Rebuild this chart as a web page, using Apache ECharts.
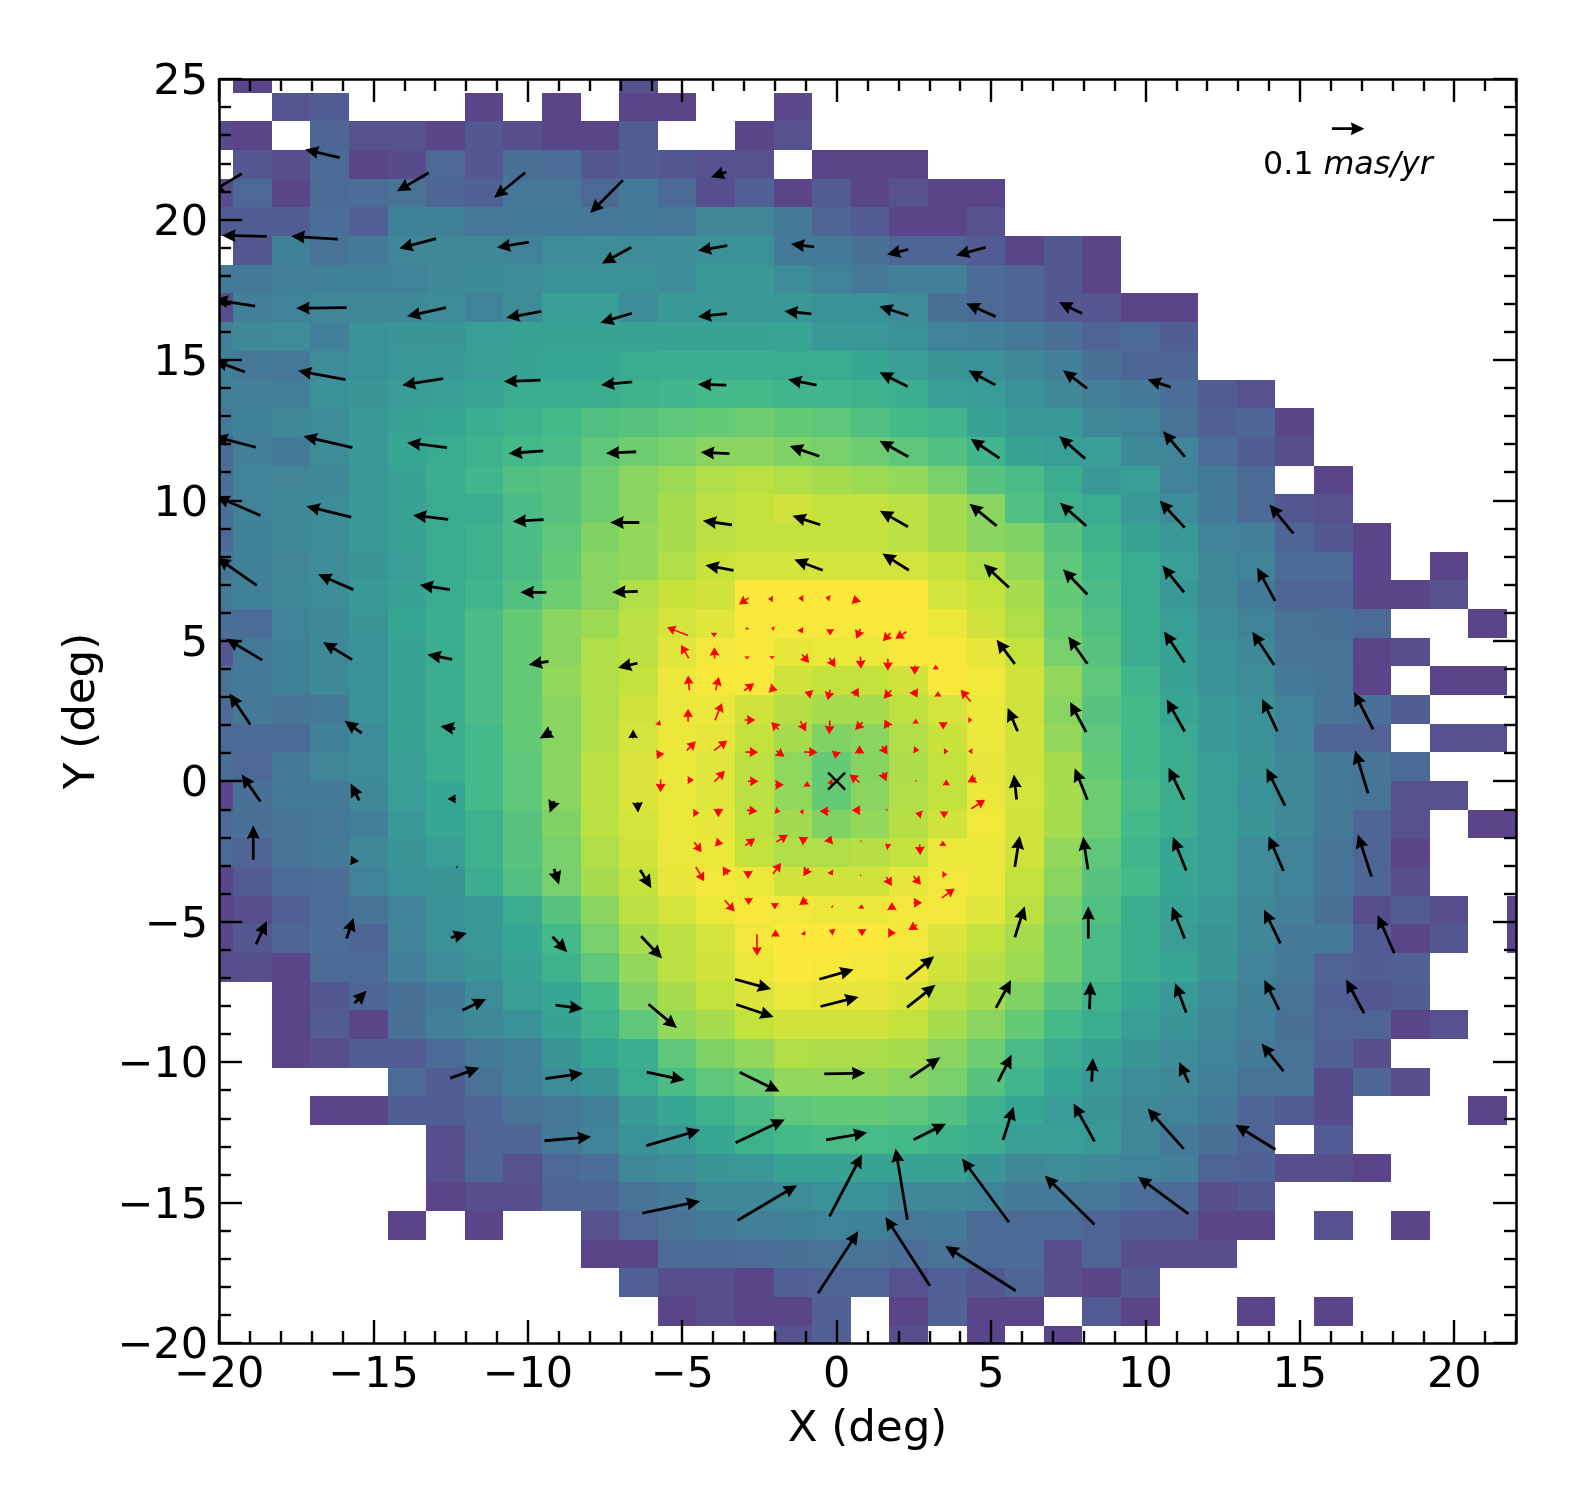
<!DOCTYPE html>
<html>
<head>
<meta charset="utf-8">
<style>html,body{margin:0;background:#fff}#chart{width:1578px;height:1512px}</style>
<script src="https://cdn.jsdelivr.net/npm/echarts@6/dist/echarts.min.js"></script>
</head>
<body>
<div id="chart"></div>
<script>
// bins, degrees
const cellLeft = -20.79;
const cellTop = 25.53;
const cellW = 1.25;
const cellH = 1.0208;

// density per bin, top row first, 0 = empty bin
const densityRows = [
[0,11,0,0,0,0,0,0,0,0,0,15],
[0,0,16,18,0,0,0,11,0,11,0,11,11,0,0,12],
[13,11,0,22,15,15,11,17,14,11,11,18,0,0,11,15],
[0,17,14,24,11,13,23,17,26,25,17,19,17,15,15,0,11,11,11],
[14,23,11,24,25,27,22,20,29,29,23,30,24,14,20,11,18,11,15,11,11],
[18,19,18,25,20,33,33,29,30,30,29,30,29,35,35,30,22,18,11,11,15],
[0,17,33,27,30,35,36,36,34,38,38,38,38,40,40,30,30,26,22,22,18,11,17,11],
[30,30,32,33,33,34,36,37,38,40,40,40,38,44,44,38,34,30,32,32,24,22,17,11],
[14,32,34,35,36,36,38,34,38,46,46,38,44,44,44,44,40,40,38,26,24,22,17,16,11,11],
[32,36,38,32,40,42,42,46,48,48,48,48,48,48,48,49,44,43,40,34,32,30,26,21,24,19],
[32,30,29,38,40,43,44,46,48,50,50,52,54,54,54,52,52,50,46,42,40,36,32,26,22,22],
[33,32,32,40,42,45,46,49,52,54,54,56,58,60,60,58,58,56,54,46,45,40,36,32,30,25,18,15],
[30,33,36,38,44,48,50,54,56,60,64,66,68,70,72,70,68,64,60,58,48,44,44,36,34,27,20,22,11],
[24,32,30,38,44,50,52,56,60,62,68,72,74,78,78,76,74,72,68,64,58,48,46,46,36,35,25,19,14],
[26,34,35,36,44,48,54,58,64,66,72,78,82,86,88,86,84,82,80,74,66,62,54,44,46,34,30,24,0,11],
[26,34,36,38,44,48,52,54,62,66,72,78,84,88,90,92,90,90,88,84,78,64,56,52,44,38,31,24,17,15],
[24,33,36,38,44,48,52,56,62,68,76,80,84,88,90,90,90,90,88,84,78,76,66,56,48,44,34,32,22,17,11],
[28,33,35,38,42,46,52,56,62,70,78,80,86,91,93,93,93,93,93,90,86,80,68,60,52,46,36,34,24,24,11,0,11],
[30,33,36,38,44,48,52,58,64,72,78,86,91,92,100,100,100,100,100,93,90,84,70,62,52,44,36,30,22,22,11,11,15],
[26,25,34,36,42,50,54,62,70,78,82,88,93,95,99,99,99,99,99,97,92,86,72,64,54,46,38,34,27,26,24,0,0,11],
[16,30,33,36,40,48,54,62,70,78,86,88,95,98,99,96,97,97,99,99,96,90,74,66,54,48,40,36,28,27,11,14],
[27,30,33,36,40,48,54,62,70,80,86,90,97,99,99,92,90,90,92,99,98,92,80,68,58,48,40,38,30,28,11,0,11,11],
[24,30,28,30,40,48,54,62,70,78,86,92,97,97,92,87,84,84,89,93,97,92,78,66,60,50,44,40,34,28,26,19],
[24,24,24,33,38,48,54,60,70,78,86,93,97,96,90,84,76,78,86,91,97,92,80,68,60,52,44,40,34,22,21,0,15,15],
[26,23,30,35,38,46,54,60,68,78,88,94,97,95,88,79,70,77,85,90,96,92,84,70,60,54,46,42,36,30,28,24],
[11,26,30,30,36,46,50,60,68,78,88,94,97,95,88,80,70,78,86,90,97,93,84,72,62,54,46,40,36,30,28,15,15],
[24,26,28,29,32,44,50,56,66,76,88,93,97,96,89,83,76,80,87,92,98,92,84,72,60,54,46,42,36,30,22,15,0,11,11],
[23,21,28,30,36,42,46,56,66,74,86,92,97,97,90,86,86,87,90,97,97,92,80,68,58,50,46,38,34,28,22,11],
[11,18,24,25,34,40,42,54,64,74,84,90,96,98,97,92,92,92,96,98,97,90,78,66,60,50,46,38,34,28,22,14],
[11,14,20,25,28,34,40,44,52,66,78,88,93,97,99,98,97,97,98,98,95,88,74,64,54,48,44,36,32,26,14,18,14,0,11],
[11,17,22,25,22,34,40,44,50,60,74,84,88,93,98,100,100,100,98,94,90,84,72,62,54,46,42,36,30,30,18,11,17,0,11],
[14,14,11,24,24,32,38,42,48,56,68,80,88,92,97,100,99,98,97,92,87,82,72,62,54,50,42,34,30,21,19,20],
[0,0,11,17,22,26,31,38,46,50,60,76,84,90,94,97,96,96,94,88,84,76,66,56,50,44,38,33,28,20,17,19],
[0,0,11,18,11,26,32,36,40,48,56,68,80,84,90,92,92,92,90,84,78,70,60,54,46,42,36,32,26,21,21,11,15],
[0,0,11,14,18,18,24,30,32,42,50,54,68,76,80,86,85,85,84,78,72,62,54,48,42,38,34,30,27,20,14],
[0,0,0,0,0,24,18,27,32,38,42,52,62,68,72,80,80,80,78,74,66,58,50,44,38,36,32,27,27,13,22,14],
[0,0,0,11,11,19,19,22,27,29,32,44,50,56,62,68,70,70,68,64,56,50,45,42,36,34,30,22,18,13,0,0,0,11],
[0,0,0,0,0,0,14,21,22,30,34,40,44,50,56,60,62,61,60,56,54,46,46,44,36,30,26,21,0,18],
[0,0,0,0,0,0,14,22,15,23,25,36,38,42,44,48,48,48,48,48,42,36,38,36,34,32,21,20,14,14,11],
[0,0,0,0,0,0,11,14,14,21,22,27,30,36,36,38,40,40,36,36,34,30,30,29,25,24,14,17],
[0,0,0,0,0,11,0,11,0,0,15,23,27,30,32,33,34,33,29,31,24,24,24,21,18,18,11,11,0,15,0,11],
[0,0,0,0,0,0,0,0,0,0,11,11,24,24,25,26,27,27,25,27,24,24,14,21,14,14,14],
[0,0,0,0,0,0,0,0,0,0,0,20,14,14,11,20,21,21,15,20,17,22,14,11,17],
[0,0,0,0,0,0,0,0,0,0,0,0,11,14,11,11,20,0,11,20,11,11,0,18,11,0,0,11,0,11],
[0,0,0,0,0,0,0,0,0,0,0,0,0,0,0,15,20,0,14,0,11,0,11]
];

const densityColors = ['#5c4289','#506195','#447a98','#3b9198','#37a693','#44b989','#65ca76','#93d85a','#c4e23c','#fde93b'];

// [tailX, tailY, tipX, tipY] in degrees
const blackArrows = [
[-16.09,22.20,-17.21,22.49],[-13.21,21.66,-14.24,21.00],[-10.08,21.67,-11.09,20.77],[-6.92,21.40,-7.98,20.23],
[-19.26,21.63,-20.28,20.96],[-18.45,19.40,-19.90,19.43],[-16.15,19.30,-17.66,19.40],[-12.97,19.32,-14.16,18.97],
[-9.97,19.19,-11.00,19.00],[-6.65,19.01,-7.60,18.43],[-18.83,16.91,-20.15,17.15],[-15.87,16.86,-17.50,16.84],
[-12.65,16.86,-13.91,16.55],[-9.56,16.73,-10.70,16.50],[-6.63,16.66,-7.65,16.32],[-19.16,14.57,-20.15,14.98],
[-15.90,14.30,-17.44,14.61],[-12.74,14.33,-14.07,14.10],[-9.59,14.28,-10.78,14.23],[-6.62,14.22,-7.63,14.11],
[-18.81,11.89,-20.15,12.27],[-15.68,11.88,-17.26,12.28],[-12.62,11.88,-13.91,12.05],[-9.50,11.76,-10.62,11.67],
[-6.49,11.73,-7.47,11.68],[-3.57,21.69,-4.07,21.50],[-3.54,19.07,-4.49,18.89],[-0.73,19.02,-1.48,19.13],
[2.32,18.93,1.63,18.75],[4.83,19.01,3.87,18.72],[-3.55,16.65,-4.49,16.54],[-0.82,16.64,-1.69,16.73],
[2.32,16.58,1.38,16.91],[5.15,16.54,4.20,17.01],[7.95,16.65,7.20,17.05],[-3.57,14.10,-4.49,14.13],
[-0.65,14.10,-1.57,14.30],[2.30,14.05,1.39,14.56],[5.14,14.11,4.27,14.62],[8.11,13.99,7.33,14.63],
[10.82,14.03,10.07,14.30],[-3.47,11.66,-4.40,11.71],[-0.56,11.57,-1.52,11.93],[2.32,11.55,1.39,12.12],
[5.27,11.50,4.34,12.19],[8.05,11.48,7.21,12.28],[11.28,11.55,10.57,12.46],[-18.66,9.46,-20.09,10.14],
[-15.72,9.40,-17.17,9.79],[-12.58,9.32,-13.72,9.47],[-9.49,9.31,-10.49,9.25],[-6.39,9.21,-7.33,9.21],
[-3.39,9.13,-4.33,9.27],[-0.53,9.13,-1.43,9.45],[2.31,9.06,1.40,9.63],[5.18,9.09,4.30,9.88],
[8.08,9.09,7.23,9.91],[11.27,9.03,10.46,9.99],[14.79,8.82,14.02,9.85],[-18.78,6.97,-20.06,7.96],
[-15.65,6.82,-16.79,7.37],[-12.52,6.82,-13.50,6.99],[-9.40,6.72,-10.24,6.73],[-6.44,6.76,-7.27,6.73],
[-3.34,7.51,-4.25,7.69],[-0.45,7.51,-1.37,7.89],[2.34,7.51,1.48,8.11],[5.58,6.90,4.76,7.73],
[8.12,6.65,7.33,7.55],[11.25,6.72,10.55,7.68],[14.20,6.42,13.62,7.60],[-18.60,4.31,-19.76,5.07],
[-15.69,4.33,-16.63,4.95],[-12.45,4.34,-13.25,4.51],[-9.33,4.27,-9.97,4.15],[-6.45,4.20,-7.08,4.04],
[5.77,4.18,5.18,5.04],[8.12,4.18,7.50,5.15],[11.27,4.23,10.60,5.33],[14.17,4.14,13.46,5.32],
[-18.99,2.02,-19.66,3.12],[-15.38,1.71,-15.93,2.15],[-12.35,1.87,-12.83,1.96],[-9.23,1.76,-9.62,1.52],
[-6.59,1.53,-6.59,1.84],[5.86,1.78,5.54,2.61],[8.08,1.75,7.56,2.82],[11.27,1.77,10.69,2.91],
[14.27,1.78,13.78,2.93],[17.37,1.85,16.76,3.17],[-18.66,-0.72,-19.27,0.24],[-15.46,-0.68,-15.74,-0.08],
[-12.33,-0.63,-12.60,-0.63],[-9.15,-0.71,-9.29,-1.12],[-6.45,-0.75,-6.43,-1.12],[5.83,-0.65,5.74,0.24],
[8.12,-0.66,7.71,0.46],[11.25,-0.66,10.75,0.48],[14.52,-0.87,13.92,0.46],[17.21,-0.43,16.79,1.09],
[-18.89,-2.80,-18.89,-1.57],[-15.75,-2.82,-15.46,-2.85],[-12.28,-3.07,-12.26,-3.08],[-9.15,-3.12,-8.99,-3.68],
[-6.36,-3.16,-6.00,-3.81],[5.77,-3.05,5.93,-1.94],[8.14,-3.14,7.98,-1.98],[11.32,-3.18,10.89,-1.99],
[14.47,-3.19,13.99,-1.96],[17.32,-3.39,16.88,-1.90],[-18.80,-5.80,-18.45,-4.98],[-15.87,-5.60,-15.64,-4.86],
[-12.49,-5.57,-11.97,-5.40],[-9.20,-5.54,-8.72,-6.09],[-6.33,-5.52,-5.65,-6.31],[5.77,-5.56,6.09,-4.45],
[8.15,-5.60,8.15,-4.45],[11.27,-5.60,10.86,-4.47],[14.37,-5.77,13.84,-4.57],[18.06,-6.12,17.52,-4.77],
[-3.29,-7.05,-2.12,-7.40],[-0.56,-7.05,0.55,-6.70],[2.25,-7.05,3.16,-6.23],[-15.61,-7.90,-15.22,-7.46],
[-12.12,-8.15,-11.35,-7.75],[-9.10,-7.97,-8.21,-8.10],[-6.09,-7.94,-5.17,-8.79],[-3.25,-7.95,-2.04,-8.39],
[-0.52,-8.02,0.71,-7.68],[2.28,-8.05,3.20,-7.25],[5.16,-8.07,5.65,-7.08],[8.19,-8.12,8.22,-7.14],
[11.32,-8.23,10.96,-7.19],[14.33,-8.14,13.85,-7.08],[17.08,-8.26,16.50,-7.06],[-12.51,-10.57,-11.57,-10.20],
[-9.43,-10.59,-8.21,-10.40],[-6.15,-10.36,-4.92,-10.64],[-3.14,-10.36,-1.85,-11.05],[-0.40,-10.42,0.93,-10.39],
[2.38,-10.55,3.36,-9.83],[5.23,-10.69,5.67,-9.74],[8.26,-10.70,8.30,-9.85],[11.40,-10.73,11.09,-10.00],
[14.47,-10.32,13.76,-9.34],[-9.46,-12.80,-7.95,-12.66],[-6.16,-12.97,-4.42,-12.41],[-3.27,-12.87,-1.68,-12.04],
[-0.34,-12.77,0.99,-12.51],[2.49,-12.76,3.54,-12.19],[5.39,-12.77,5.73,-11.59],[8.35,-12.82,7.67,-11.47],
[11.24,-13.09,10.07,-11.65],[14.21,-13.11,12.91,-12.23],[-6.29,-15.38,-4.42,-14.95],[-3.21,-15.64,-1.28,-14.38],
[-0.23,-15.49,0.82,-13.29],[2.29,-15.61,1.91,-13.08],[5.58,-15.70,4.06,-13.43],[8.35,-15.78,6.74,-14.04],
[11.39,-15.40,9.76,-14.08],[-0.60,-18.23,0.70,-16.02],[3.02,-17.96,1.58,-15.51],[5.80,-18.14,3.52,-16.55]
];

const redArrows = [
[-2.85,6.53,-3.16,6.29],[-2.06,6.49,-2.22,6.49],[-1.07,6.51,-1.24,6.51],[-0.21,6.51,-0.36,6.55],[0.64,6.34,0.57,6.63],
[-4.81,5.19,-5.49,5.48],[-3.97,5.29,-3.97,5.13],[-2.90,5.40,-2.90,5.49],[-2.02,5.43,-2.12,5.46],[-1.18,5.43,-1.10,5.26],
[-0.21,5.42,-0.21,5.19],[0.77,5.42,0.64,5.07],[1.74,5.28,1.50,4.98],[2.26,5.32,1.90,5.07],
[-4.79,4.38,-5.04,4.85],[-3.95,4.37,-3.96,4.77],[-2.90,4.45,-2.90,4.33],[-2.09,4.46,-2.09,4.34],[-1.12,4.51,-0.89,4.21],
[-0.23,4.39,-0.04,4.06],[0.77,4.43,0.79,4.00],[1.66,4.36,1.66,3.93],[2.53,4.12,2.53,3.79],[3.21,3.98,3.21,4.15],
[-4.77,3.24,-4.81,3.76],[-3.92,3.24,-3.81,3.71],[-2.99,3.23,-2.67,3.49],[-2.17,3.32,-1.91,3.24],[-0.80,3.09,-1.04,3.18],
[-0.21,3.26,-0.29,2.88],[0.57,3.03,0.71,3.33],[1.77,3.24,1.52,2.94],[2.49,3.24,2.62,2.97],[3.28,3.01,3.28,3.20],[4.34,2.84,4.02,3.26],
[-5.80,2.10,-5.69,1.98],[-4.81,2.12,-4.81,2.58],[-3.94,2.17,-3.71,2.78],[-2.98,2.18,-2.63,2.18],[-1.88,1.84,-2.12,2.11],
[-1.17,2.14,-0.99,1.77],[-0.22,2.16,-0.24,1.67],[0.84,2.10,0.60,1.82],[1.68,1.92,1.55,2.20],[2.56,2.05,2.56,2.22],[3.45,2.11,3.45,1.84],[4.26,2.18,4.39,2.18],
[-5.84,0.95,-5.58,0.97],[-4.85,1.10,-4.56,1.42],[-3.96,1.10,-3.54,1.45],[-2.95,1.04,-2.54,1.03],[-1.95,1.08,-1.69,0.87],
[-1.05,1.04,-0.62,1.03],[-0.01,1.07,-0.05,0.80],[0.74,0.96,0.74,1.28],[1.47,1.25,1.65,0.95],[2.49,1.12,2.68,1.10],[3.47,1.07,3.62,1.07],[4.40,1.07,4.26,1.07],
[-5.70,0.06,-5.70,-0.39],[-4.83,0.04,-4.62,0.04],[-3.96,-0.02,-3.62,0.37],[-2.87,0,-2.53,0],[-1.99,-0.13,-1.71,-0.13],
[-0.96,-0.20,-0.96,0],[-0.12,-0.04,-0.30,-0.06],[0.74,-0.04,0.42,0.24],[1.49,0.32,1.61,0],[2.56,0.02,2.60,0],[3.55,-0.15,3.55,0.06],[4.51,0.12,4.24,-0.04],
[-4.65,-1.13,-4.44,-1.13],[-3.83,-0.97,-3.83,-1.28],[-2.90,-1.03,-2.56,-1.07],[-1.99,-1.04,-1.82,-1.09],[-1.07,-1.09,-1.20,-1.09],
[-0.23,-1.07,-0.55,-1.07],[0.77,-1.03,0.49,-1.03],[1.61,-1.02,1.66,-1.02],[2.76,-1.19,2.55,-1.13],[3.48,-1.07,3.48,-1.32],[4.36,-0.98,4.81,-0.66],
[-4.61,-2.17,-4.37,-2.53],[-3.92,-2.17,-3.67,-2.23],[-2.96,-2.29,-2.64,-2.03],[-1.95,-2.16,-1.58,-1.91],[-0.99,-2.15,-1.23,-1.98],
[-0.26,-2.20,-0.17,-1.93],[0.77,-2.15,0.81,-2.12],[1.71,-2.35,1.57,-2.23],[2.69,-2.25,2.71,-2.63],[3.44,-2.31,3.44,-2.12],
[-4.56,-3.05,-4.29,-3.56],[-3.52,-3.32,-3.69,-3.04],[-2.87,-3.19,-2.87,-3.48],[-2.06,-3.30,-1.80,-2.91],[-0.91,-3.10,-1.08,-3.38],
[-0.21,-3.20,-0.12,-3.36],[0.76,-3.35,0.80,-3.36],[1.61,-3.41,1.79,-3.73],[2.49,-3.38,2.73,-3.69],[3.42,-3.32,3.58,-3.32],
[-3.62,-4.24,-3.30,-4.64],[-2.85,-4.15,-2.85,-4.41],[-2.00,-4.33,-2.00,-4.57],[-0.96,-4.21,-1.21,-4.41],[-0.16,-4.45,-0.11,-4.49],
[0.80,-4.54,0.80,-4.38],[1.79,-4.59,1.79,-4.30],[2.49,-4.33,2.77,-4.33],[3.41,-4.15,3.82,-3.82],
[-2.58,-5.45,-2.58,-6.21],[-1.98,-5.54,-1.98,-5.28],[-1.09,-5.38,-1.01,-5.49],[-0.08,-5.38,-0.25,-5.30],[0.82,-5.26,0.82,-5.52],[1.66,-5.40,1.92,-5.40],[2.60,-5.11,2.33,-5.30]
];

const keyArrow = [[16.04,23.23,17.09,23.23]];
const centerPoint = [[0,0]];

const fontFamily = '"DejaVu Sans", sans-serif';

const cells = [];
densityRows.forEach((row, r) => {
    row.forEach((v, c) => {
        if (v > 0) cells.push([cellLeft + c * cellW, cellTop - r * cellH, v]);
    });
});

const renderCell = (params, api) => {
    const x = api.value(0);
    const y = api.value(1);
    const a = api.coord([x, y]);
    const b = api.coord([x + cellW, y - cellH]);
    const left = Math.round(a[0]);
    const top = Math.round(a[1]);
    return {
        type: 'rect',
        shape: { x: left, y: top, width: Math.round(b[0]) - left, height: Math.round(b[1]) - top },
        style: { fill: api.visual('color') },
    };
};

const arrowRenderer = (color, shaftW, headW, headL) => (params, api) => {
    const a = api.coord([api.value(0), api.value(1)]);
    const b = api.coord([api.value(2), api.value(3)]);
    const dx = b[0] - a[0];
    const dy = b[1] - a[1];
    const len = Math.hypot(dx, dy) || 1;
    const ux = dx / len;
    const uy = dy / len;
    const nx = -uy;
    const ny = ux;
    const s = Math.max(Math.min(1, len / headL), 0.15);
    const hl = headL * s;
    const hw = headW * Math.pow(s, 0.7) / 2;
    const sw = shaftW * s / 2;
    const neck = [b[0] - ux * hl * 0.92, b[1] - uy * hl * 0.92];
    const barb = [b[0] - ux * hl, b[1] - uy * hl];
    const points = [
        [a[0] + nx * sw, a[1] + ny * sw],
        [neck[0] + nx * sw, neck[1] + ny * sw],
        [barb[0] + nx * hw, barb[1] + ny * hw],
        [b[0], b[1]],
        [barb[0] - nx * hw, barb[1] - ny * hw],
        [neck[0] - nx * sw, neck[1] - ny * sw],
        [a[0] - nx * sw, a[1] - ny * sw],
    ];
    return { type: 'polygon', shape: { points }, style: { fill: color } };
};

const renderCross = (params, api) => {
    const p = api.coord([api.value(0), api.value(1)]);
    const r = 8.5;
    const lineStyle = { stroke: '#000', lineWidth: 2.4 };
    return {
        type: 'group',
        children: [
            { type: 'line', shape: { x1: p[0] - r, y1: p[1] - r, x2: p[0] + r, y2: p[1] + r }, style: lineStyle },
            { type: 'line', shape: { x1: p[0] - r, y1: p[1] + r, x2: p[0] + r, y2: p[1] - r }, style: lineStyle },
        ],
    };
};

const minusLabel = (value) => String(value).replace('-', '\u2212');

const axisBase = (min, max) => ({
    type: 'value',
    min,
    max,
    interval: 5,
    z: 5,
    splitLine: { show: false },
    axisLine: { show: true, onZero: false, lineStyle: { color: '#000', width: 2.5 } },
    axisTick: { show: true, inside: true, length: 23, lineStyle: { color: '#000', width: 2.4 } },
    minorTick: { show: true, splitNumber: 5, length: 12, lineStyle: { color: '#000', width: 2.4 } },
    minorSplitLine: { show: false },
});

const chart = echarts.init(document.getElementById('chart'));

chart.setOption({
    animation: false,
    backgroundColor: '#fff',
    grid: { left: 219, right: 62, top: 79, bottom: 169 },
    xAxis: [
        {
            ...axisBase(-20, 22),
            position: 'bottom',
            name: 'X (deg)',
            nameLocation: 'middle',
            nameGap: 65,
            nameTextStyle: { fontFamily, fontSize: 43.5, color: '#000' },
            axisLabel: {
                fontFamily, fontSize: 43, color: '#000', margin: 11,
                showMaxLabel: false, formatter: minusLabel,
            },
        },
        { ...axisBase(-20, 22), position: 'top', axisLabel: { show: false } },
    ],
    yAxis: [
        {
            ...axisBase(-20, 25),
            position: 'left',
            name: 'Y (deg)',
            nameLocation: 'middle',
            nameGap: 114,
            nameTextStyle: { fontFamily, fontSize: 43.5, color: '#000' },
            axisLabel: {
                margin: 11,
                formatter: (value) => `{v|${minusLabel(value)}}`,
                rich: { v: { fontFamily, fontSize: 43, color: '#000', padding: [8, 0, 0, 0] } },
            },
        },
        { ...axisBase(-20, 25), position: 'right', axisLabel: { show: false } },
    ],
    visualMap: {
        show: false,
        type: 'continuous',
        seriesIndex: 0,
        dimension: 2,
        min: 10,
        max: 100,
        inRange: { color: densityColors },
    },
    graphic: [
        {
            type: 'text',
            x: 1263,
            y: 150,
            z: 20,
            style: {
                text: '{a|0.1 }{b|mas/yr}',
                fill: '#000',
                rich: {
                    a: { fontFamily, fontSize: 31.7, fill: '#000' },
                    b: { fontFamily, fontSize: 31.7, fontStyle: 'italic', fill: '#000' },
                },
            },
        },
    ],
    series: [
        { type: 'custom', data: cells, encode: { x: 0, y: 1 }, clip: true, z: 2, silent: true, renderItem: renderCell },
        { type: 'custom', data: blackArrows.concat(keyArrow), encode: { x: [0, 2], y: [1, 3] }, clip: true, z: 6, silent: true, renderItem: arrowRenderer('#000', 2.8, 13, 13.5) },
        { type: 'custom', data: redArrows, encode: { x: [0, 2], y: [1, 3] }, clip: true, z: 7, silent: true, renderItem: arrowRenderer('#f00', 1.6, 10, 8.5) },
        { type: 'custom', data: centerPoint, encode: { x: 0, y: 1 }, z: 8, silent: true, renderItem: renderCross },
    ],
});

window.addEventListener('resize', chart.resize);
</script>
</body>
</html>
